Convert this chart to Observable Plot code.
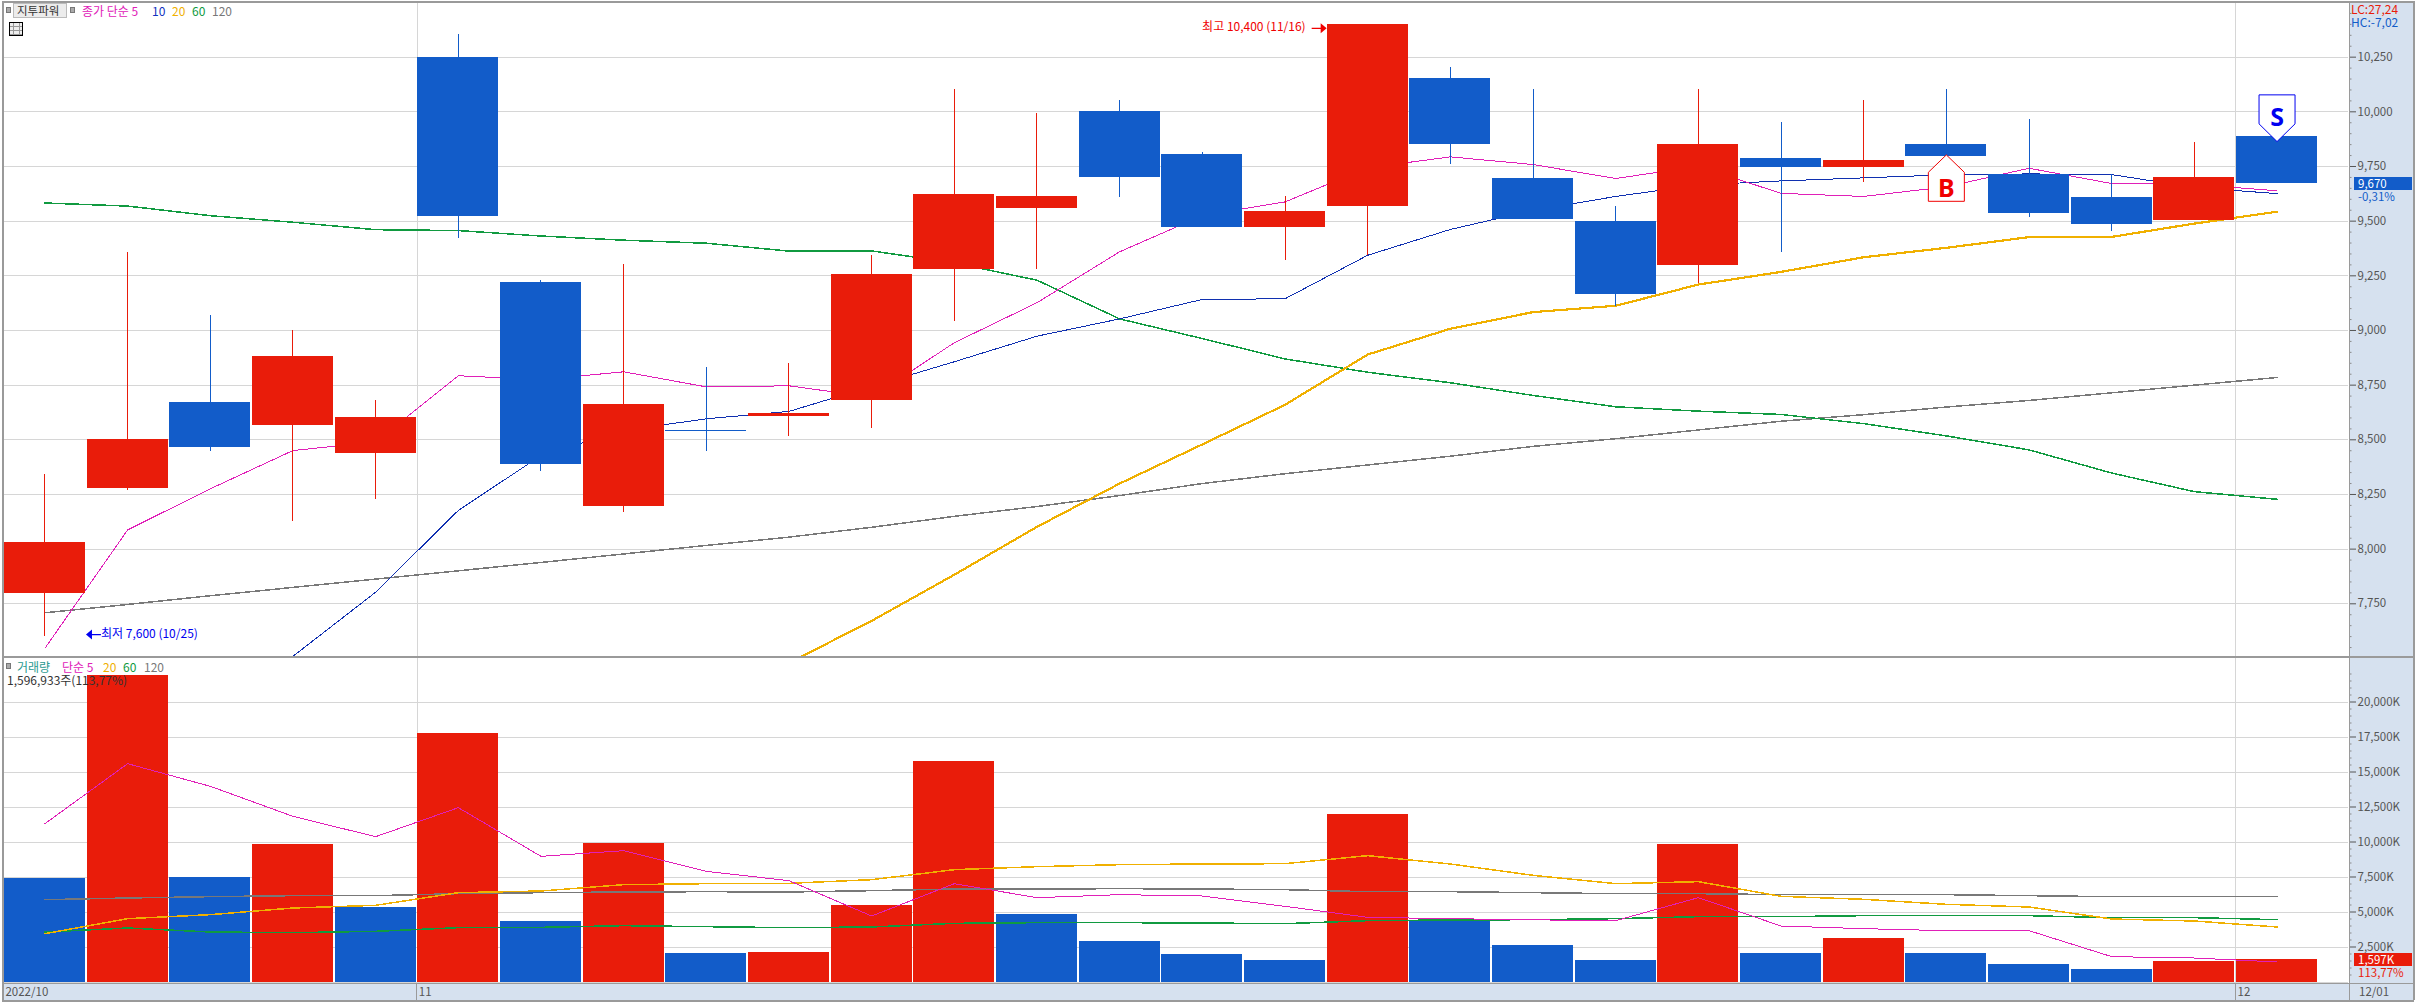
<!DOCTYPE html>
<html><head><meta charset="utf-8">
<script src="https://cdn.jsdelivr.net/npm/d3@7"></script>
<script src="https://cdn.jsdelivr.net/npm/@observablehq/plot@0.6"></script>
<style>
html,body{margin:0;padding:0;background:#fff;overflow:hidden}
#wrap{position:relative;width:2416px;height:1002px;font-family:"Noto Sans CJK KR","Noto Sans",sans-serif;font-size:12px;line-height:13px}
#wrap svg{position:absolute;left:0;background:transparent}
.abs{position:absolute;white-space:nowrap}
.sq{position:absolute;width:3px;height:4px;background:#aaa;border:1px solid #777}
</style></head><body>
<div id="wrap"></div>
<script>
const dates = ["10/25","10/26","10/27","10/28","10/31","11/01","11/02","11/03","11/04","11/07","11/08","11/09","11/10","11/11","11/14","11/15","11/16","11/17","11/18","11/21","11/22","11/23","11/24","11/25","11/28","11/29","11/30","12/01"];
const open  = [7797,8277,8671,8566,8437,10250,9220,8195,8541,8607,8680,9279,9558,10001,9805,9471,9567,10152,9695,9500,9299,9788,9747,9852,9712,9610,9505,9889];
const close = [8030,8502,8465,8881,8602,9520,8387,8662,8536,8620,9256,9622,9613,9700,9471,9544,10400,9851,9508,9166,9852,9747,9779,9797,9537,9486,9701,9670];
const high  = [8341,9355,9069,9000,8680,10353,9229,9300,8831,8849,9343,10102,9992,10052,9814,9613,10400,10203,10102,9569,10100,9950,10050,10100,9963,9713,9861,9889];
const low   = [7600,8268,8447,8127,8227,9421,8355,8168,8447,8515,8552,9041,9279,9608,9471,9320,9343,9759,9508,9108,9216,9358,9675,9797,9518,9454,9505,9670];
const ma5   = [7547,8088,8276,8451,8490,8793,8775,8811,8742,8747,8695,8944,9127,9360,9525,9588,9744,9794,9759,9695,9751,9627,9613,9657,9742,9672,9668,9639];
const ma10  = [null,null,null,7510,7803,8177,8428,8543,8596,8630,8744,8857,8974,9053,9142,9145,9344,9462,9549,9613,9665,9684,9698,9712,9716,9713,9654,9626];
const ma20  = [null,null,null,null,null,null,null,null,null,7480,7672,7883,8102,8300,8479,8660,8890,9008,9084,9113,9210,9268,9335,9378,9427,9428,9489,9543];
const ma60  = [9583,9569,9525,9495,9461,9457,9432,9413,9399,9363,9364,9309,9230,9053,8963,8870,8809,8761,8703,8651,8631,8616,8574,8518,8454,8348,8263,8228];
const ma120 = [7709,7747,7787,7825,7863,7901,7939,7978,8017,8055,8100,8150,8195,8245,8300,8345,8385,8425,8470,8505,8545,8585,8615,8650,8680,8715,8750,8785];

const volume = [7405,21890,7476,9834,5333,17762,4333,9905,2048,2119,5476,15762,4833,2905,1976,1548,11976,4333,2619,1548,9834,2048,3119,2048,1262,905,1476,1597];
const volUp  = [0,1,0,1,0,1,0,1,0,1,1,1,0,0,0,0,1,0,0,0,1,0,1,0,0,0,1,1];
const vma5   = [11310,15595,13976,11833,10381,12453,8976,9381,7905,7238,4714,7024,6024,6238,6143,5405,4619,4524,4440,4381,6024,4000,3810,3667,3667,1810,1714,1429];
const vma20  = [3452,4524,4810,5286,5476,6381,6500,6952,7024,7048,7310,8024,8238,8381,8429,8452,9024,8429,7619,7024,7167,6119,5905,5548,5357,4500,4357,3929];
const vma60  = [3571,3857,3571,3524,3619,3881,3905,4024,3952,3881,3929,4190,4238,4238,4214,4167,4381,4429,4452,4524,4667,4667,4738,4738,4738,4595,4595,4452];
const vma120 = [5881,6000,6095,6167,6167,6310,6381,6429,6452,6429,6524,6643,6643,6667,6643,6595,6452,6452,6381,6310,6310,6238,6238,6238,6167,6095,6095,6095];

const priceTicks = [7750,8000,8250,8500,8750,9000,9250,9500,9750,10000,10250];
const priceMinor = d3.range(7550,10500,50).filter(v=>v%250);
const volTicks = [2500,5000,7500,10000,12500,15000,17500,20000];
const volMinor = d3.range(500,23000,500).filter(v=>v%2500);
const monthStarts = ["11/01","12/01"];
const monthLabels = [{date:"10/25",label:"2022/10"},{date:"11/01",label:"11"},{date:"12/01",label:"12"}];
const lastDateLabel = [{date:"12/01",label:"12/01"}];
const signals = [{date:"11/25",price:9803,label:"B",color:"#f00000"},{date:"12/01",price:9864,label:"S",color:"#0000f0"}];
const extremes = [{date:"11/16",price:10400,label:"최고 10,400 (11/16)",color:"#f00000"},{date:"10/25",price:7600,label:"최저 7,600 (10/25)",color:"#0000f0"}];
const lastPrice = 9670, lastPriceText = "9,670", lastPriceChange = "-0,31%";
const lastVolume = 1597, lastVolumeText = "1,597K", lastVolumeChange = "113,77%";

const RED="#e91c0a", BLUE="#125cc9", GRID="#d6d6d6", PANEL="#d6e1ef", FRAME="#9a9a9a";
const C5="#e020b8", C10="#1030b0", C20="#f0b000", C60="#109a40", C120="#787878";
const FONT='"Noto Sans CJK KR","Noto Sans",sans-serif';

const candles = dates.map((date,i)=>({date,open:open[i],close:close[i],high:high[i],low:low[i],color:close[i]>=open[i]?RED:BLUE}));
const series = a => dates.map((date,i)=>({date,v:a[i]})).filter(d=>d.v!=null);
const vols = dates.map((date,i)=>({date,v:volume[i],color:volUp[i]?RED:BLUE}));

const X = {type:"band",domain:dates,range:[4,2317],paddingInner:0.021,paddingOuter:0,align:0.5,round:false};
const pentDown={draw(c){c.moveTo(0,0);c.lineTo(-18,-17.7);c.lineTo(-18,-46.7);c.lineTo(18,-46.7);c.lineTo(18,-17.7);c.closePath();}};
const pentUp={draw(c){c.moveTo(0,0);c.lineTo(18,17.4);c.lineTo(18,46.4);c.lineTo(-18,46.4);c.lineTo(-18,17.4);c.closePath();}};
const arrowR={draw(c){c.moveTo(0,0);c.lineTo(-6,-5);c.lineTo(-6,-0.6);c.lineTo(-15,-0.6);c.lineTo(-15,0.6);c.lineTo(-6,0.6);c.lineTo(-6,5);c.closePath();}};
const arrowL={draw(c){c.moveTo(0,0);c.lineTo(6,-5);c.lineTo(6,-0.6);c.lineTo(15,-0.6);c.lineTo(15,0.6);c.lineTo(6,0.6);c.lineTo(6,5);c.closePath();}};

const maLine=(a,color,w)=>Plot.line(series(a),{x:"date",y:"v",stroke:color,strokeWidth:w,clip:true,curve:"linear",shapeRendering:"crispEdges"});
const noLabel=()=>null;

const pricePlot = Plot.plot({
  width:2416,height:656,marginTop:2,marginBottom:0,marginLeft:3,marginRight:68,
  style:{fontFamily:FONT,background:"transparent"},
  x:{...X,axis:null},
  y:{domain:[7509,10500],range:[656,2],axis:null},
  marks:[
    Plot.ruleY(priceTicks,{stroke:GRID,strokeWidth:1,shapeRendering:"crispEdges"}),
    Plot.ruleX(monthStarts,{x:d=>d,dx:-41.3,stroke:GRID,strokeWidth:1,shapeRendering:"crispEdges"}),
    Plot.axisY(priceMinor,{anchor:"right",tickSize:2.5,tickFormat:noLabel,color:"#8a8a8a",label:null}),
    Plot.axisY(priceTicks,{anchor:"right",tickSize:7,tickPadding:2,tickFormat:d3.format(",d"),color:"#555",fontSize:11.5,label:null}),
    maLine(ma120,C120,1.5),
    maLine(ma60,C60,1.5),
    maLine(ma20,C20,2.2),
    maLine(ma10,C10,1),
    maLine(ma5,C5,1),
    Plot.ruleX(candles,{x:"date",y1:"low",y2:"high",stroke:"color",strokeWidth:1,shapeRendering:"crispEdges"}),
    Plot.barY(candles,{x:"date",y1:"open",y2:"close",fill:"color",shapeRendering:"crispEdges"}),
    Plot.dot(signals.slice(0,1),{x:"date",y:"price",symbol:pentUp,stroke:"color",fill:"#fff",strokeWidth:1}),
    Plot.dot(signals.slice(1),{x:"date",y:"price",symbol:pentDown,stroke:"color",fill:"#fff",strokeWidth:1}),
    Plot.text(signals.slice(0,1),{x:"date",y:"price",text:"label",fill:"color",fontSize:25,fontWeight:700,fontFamily:'"Noto Sans",sans-serif',dy:34}),
    Plot.text(signals.slice(1),{x:"date",y:"price",text:"label",fill:"color",fontSize:25,fontWeight:700,fontFamily:'"Noto Sans",sans-serif',dy:-24}),
    Plot.text(extremes.slice(0,1),{x:"date",y:"price",text:"label",fill:"color",fontSize:12,textAnchor:"end",dx:-62,dy:3}),
    Plot.text(extremes.slice(1),{x:"date",y:"price",text:"label",fill:"color",fontSize:12,textAnchor:"start",dx:56,dy:-2}),
    Plot.dot(extremes.slice(0,1),{x:"date",y:"price",symbol:arrowR,fill:"color",dx:-41,dy:4}),
    Plot.dot(extremes.slice(1),{x:"date",y:"price",symbol:arrowL,fill:"color",dx:41,dy:-2})
  ]
});

const volPlot = Plot.plot({
  width:2416,height:346,marginTop:0,marginBottom:20.5,marginLeft:3,marginRight:68,
  style:{fontFamily:FONT,background:"transparent"},
  x:{...X,axis:null},
  y:{domain:[0,23250],range:[325.5,0],axis:null},
  marks:[
    Plot.ruleY([0,...volTicks],{stroke:GRID,strokeWidth:1,shapeRendering:"crispEdges"}),
    Plot.ruleX(monthStarts,{x:d=>d,dx:-41.3,stroke:GRID,strokeWidth:1,shapeRendering:"crispEdges"}),
    Plot.axisY(volMinor,{anchor:"right",tickSize:2.5,tickFormat:noLabel,color:"#8a8a8a",label:null}),
    Plot.axisY(volTicks,{anchor:"right",tickSize:7,tickPadding:2,tickFormat:d=>d3.format(",d")(d)+"K",color:"#555",fontSize:11.5,label:null}),
    Plot.barY(vols,{x:"date",y:"v",fill:"color",shapeRendering:"crispEdges"}),
    maLine(vma120,C120,1.5),
    maLine(vma60,C60,1.5),
    maLine(vma20,C20,1.5),
    maLine(vma5,C5,1),
    Plot.text(monthLabels,{x:"date",text:"label",frameAnchor:"bottom",lineAnchor:"middle",textAnchor:"start",dx:-39.5,dy:10,fill:"#555",fontSize:11.5}),
    Plot.text(lastDateLabel,{x:"date",text:"label",frameAnchor:"bottom",lineAnchor:"middle",textAnchor:"start",dx:82,dy:10,fill:"#555",fontSize:11.5})
  ]
});

const wrap = document.getElementById("wrap");
const box = (l,t,w,h,bg,extra="")=>{const d=document.createElement("div");d.className="abs";d.style.cssText=`left:${l}px;top:${t}px;width:${w}px;height:${h}px;background:${bg};${extra}`;wrap.appendChild(d);return d;};
const label = (l,t,txt,color,extra="")=>{const d=document.createElement("div");d.className="abs";d.style.cssText=`left:${l}px;top:${t}px;color:${color};${extra}`;d.textContent=txt;wrap.appendChild(d);return d;};
const square=(l,t)=>{const d=document.createElement("div");d.className="sq";d.style.left=l+"px";d.style.top=t+"px";wrap.appendChild(d);};

// panels beneath the charts
box(2349,2,65,998,PANEL);
box(3,983,2346,17,PANEL);

pricePlot.style.top="0px"; volPlot.style.top="656px";
pricePlot.style.left="0px"; volPlot.style.left="0px";
wrap.appendChild(pricePlot); wrap.appendChild(volPlot);

// frame lines
box(2,1,2412,1.5,FRAME);
box(2,1,1.5,999,FRAME);
box(2413,1,1.5,999,FRAME);
box(2,1000,2412,1.5,FRAME);
box(2,656,2412,1.5,FRAME);
box(2,983,2412,1.2,FRAME);
box(2349,1,1.2,999,FRAME);
const xs = pricePlot.scale("x");
for (const m of monthStarts){ box(xs.apply(m)-1,983,1,17,FRAME); }

// header of the price pane
square(6,7);
box(13,3,52,13,"#ececec","border:1px solid #bbb;");
label(17,4,"지투파워","#333","font-size:11.5px;");
square(70,7);
label(82,4,"종가 단순 5",C5,"font-size:12px;");
label(152,4,"10","#1030c0");
label(172,4,"20",C20);
label(192,4,"60",C60);
label(212,4,"120",C120);
const icon = box(9,22,12,12,"#fff","border:1px solid #000;background:repeating-linear-gradient(0deg,#999 0 1px,#eee 1px 4px),#eee;");
icon.innerHTML='<div style="position:absolute;left:3px;top:0;width:5px;height:12px;border-left:1px solid #999;border-right:1px solid #999"></div>';

// header of the volume pane
square(6,663);
label(17,660,"거래량","#2a9a90");
label(62,660,"단순 5",C5);
label(103,660,"20",C20);
label(123,660,"60",C60);
label(144,660,"120",C120);
label(7,673,"1,596,933주(113,77%)","#333");

// right side read-outs
label(2351,2,"LC:27,24","#e91c0a");
label(2351,15,"HC:-7,02",BLUE);
const yP = pricePlot.scale("y").apply(lastPrice);
box(2354,yP-6.5,58,13,BLUE);
label(2358,yP-6.5,lastPriceText,"#fff","font-size:11.5px;");
label(2358,yP+6.5,lastPriceChange,BLUE,"font-size:11.5px;");
const yV = 656+volPlot.scale("y").apply(lastVolume);
box(2354,yV-6.5,58,13,RED);
label(2358,yV-6.5,lastVolumeText,"#fff","font-size:11.5px;");
label(2358,yV+6.5,lastVolumeChange,RED,"font-size:11.5px;");
</script>
</body></html>
